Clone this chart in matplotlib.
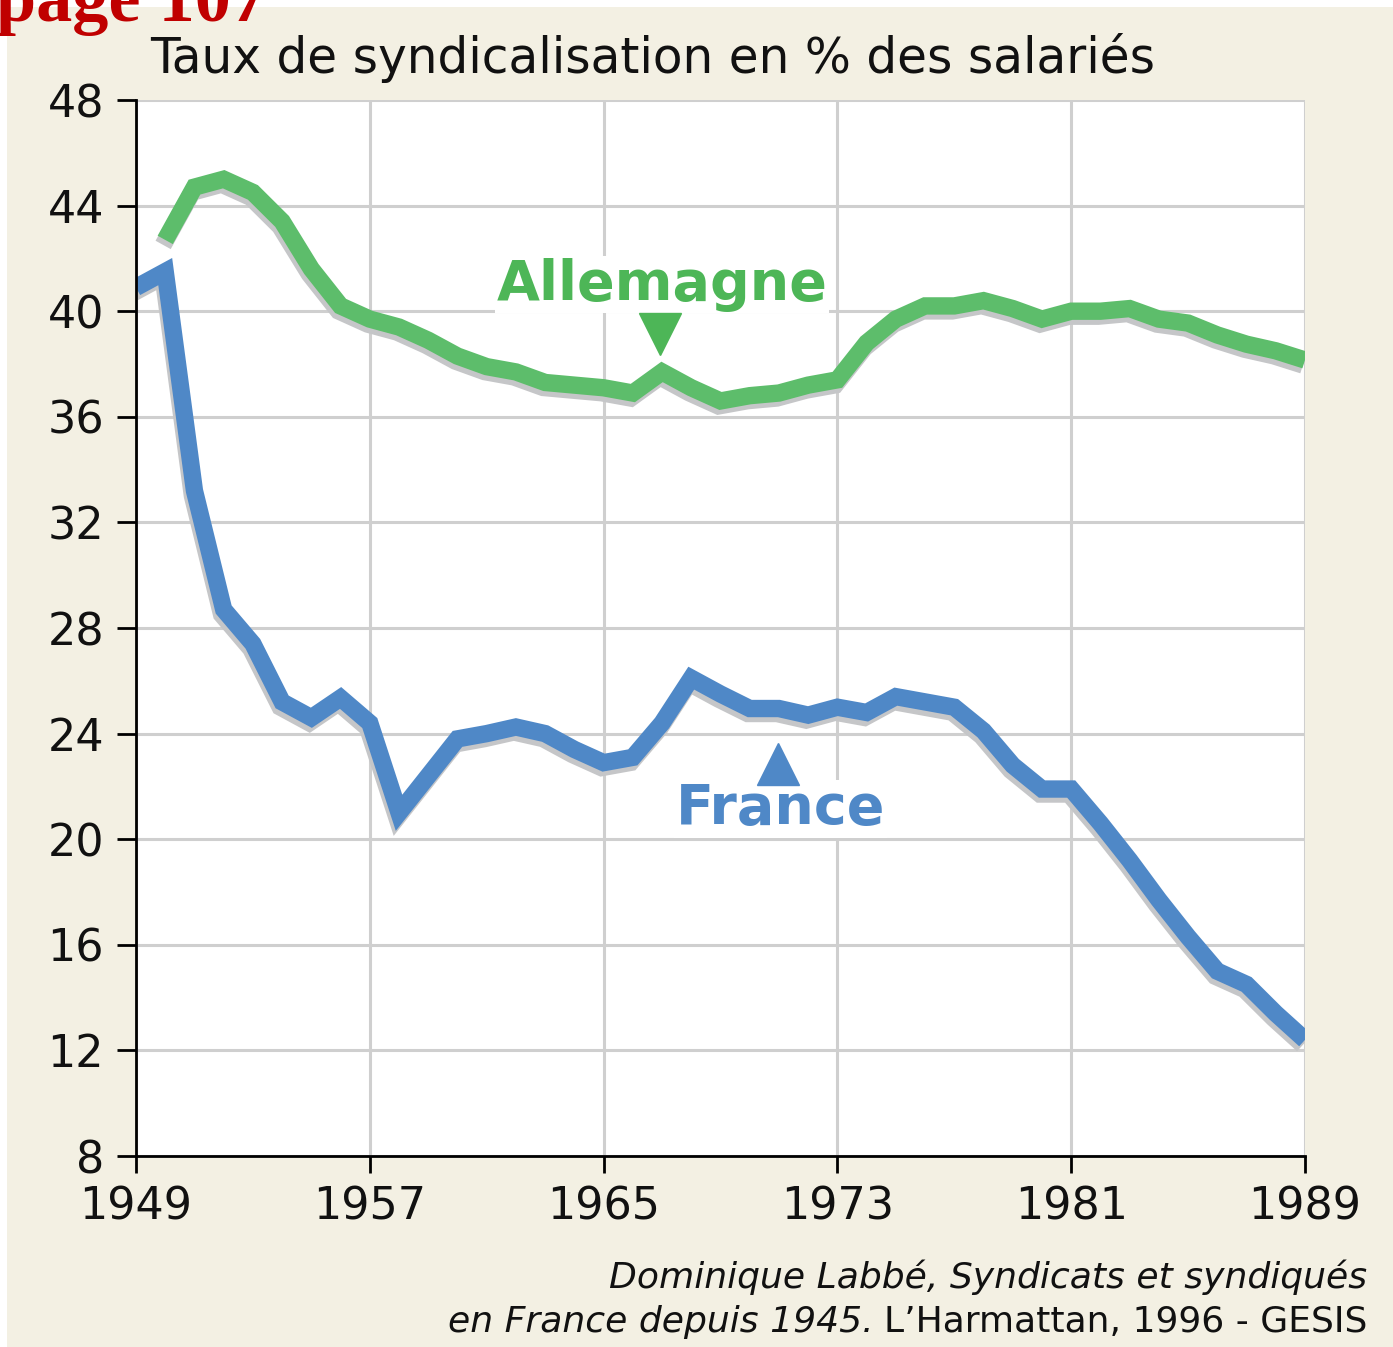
import matplotlib
matplotlib.use("Agg")
import matplotlib.pyplot as plt
import matplotlib.patheffects as pe
from matplotlib.patches import Rectangle

# taux de syndicalisation (% des salariés)
years_fr = list(range(1949, 1990))
france = [40.9, 41.5, 33.2, 28.7, 27.4, 25.2, 24.6, 25.35, 24.4, 21.0,
          22.4, 23.8, 24.0, 24.25, 24.0, 23.4, 22.9, 23.1, 24.4, 26.1,
          25.5, 24.95, 24.95, 24.7, 25.0, 24.8, 25.4, 25.2, 25.0, 24.1,
          22.8, 21.9, 21.9, 20.6, 19.2, 17.7, 16.3, 15.0, 14.5, 13.4,
          12.4]

years_de = list(range(1950, 1990))
allemagne = [42.7, 44.7, 45.0, 44.5, 43.4, 41.6, 40.2, 39.7, 39.4, 38.9,
             38.3, 37.9, 37.7, 37.3, 37.2, 37.1, 36.9, 37.7, 37.1, 36.6,
             36.8, 36.9, 37.2, 37.4, 38.8, 39.7, 40.2, 40.2, 40.4, 40.1,
             39.7, 40.0, 40.0, 40.1, 39.7, 39.55, 39.1, 38.75, 38.5, 38.15]

xticks = [1949, 1957, 1965, 1973, 1981, 1989]
yticks = [8, 12, 16, 20, 24, 28, 32, 36, 40, 44, 48]

GREEN = "#5dbd6b"
GREEN_TXT = "#4db657"
BLUE = "#4f88c7"
BEIGE = "#f3f0e3"
SHADOW = "#c5c6c8"

W, H = 1393, 1347
fig = plt.figure(figsize=(W / 100, H / 100), dpi=100)
fig.patch.set_facecolor("white")
fig.patches.append(Rectangle((7 / W, 0), 1, 1 - 7 / H, transform=fig.transFigure,
                             facecolor=BEIGE, edgecolor="none", zorder=-10))

ax = fig.add_axes([136 / W, 1 - 1156 / H, (1305 - 136) / W, (1156 - 100) / H])
ax.set_facecolor("white")
ax.set_xlim(1949, 1989)
ax.set_ylim(8, 48)

ax.grid(True, color="#cfcfcf", lw=2.2, zorder=0)
ax.set_axisbelow(True)
for s in ["top", "right"]:
    ax.spines[s].set_visible(False)
for s in ["left", "bottom"]:
    ax.spines[s].set_linewidth(2)
    ax.spines[s].set_zorder(5)

font = "DejaVu Sans"
ax.set_xticks(xticks)
ax.set_yticks(yticks)
ax.tick_params(axis="y", length=14, width=2, pad=9, labelsize=32)
ax.tick_params(axis="x", length=12, width=2, pad=9, labelsize=32)
for lab in ax.get_xticklabels() + ax.get_yticklabels():
    lab.set_family(font)
    lab.set_color("#111111")

shadow = [pe.SimpleLineShadow(offset=(-1.5, -3.6), shadow_color=SHADOW, alpha=1.0),
          pe.Normal()]
ax.plot(years_de, allemagne, color=GREEN, lw=12.5, solid_joinstyle="miter",
        solid_capstyle="butt", path_effects=shadow, zorder=3)
ax.plot(years_fr, france, color=BLUE, lw=12.5, solid_joinstyle="miter",
        solid_capstyle="butt", path_effects=shadow, zorder=3)

# étiquettes des séries
ax.text(1967.0, 41.0, "Allemagne", color=GREEN_TXT, fontsize=40, fontweight="bold",
        ha="center", va="center", zorder=4,
        bbox=dict(facecolor="white", edgecolor="none", pad=1))
ax.plot([1966.93], [39.15], marker="v", color=GREEN_TXT, markersize=30, zorder=4)
ax.text(1971.05, 21.15, "France", color=BLUE, fontsize=40, fontweight="bold",
        ha="center", va="center", zorder=4,
        bbox=dict(facecolor="white", edgecolor="none", pad=1))
ax.plot([1970.97], [22.85], marker="^", color=BLUE, markersize=30, zorder=4)

fig.text(150 / W, 1 - 58 / H, "Taux de syndicalisation en % des salariés",
         fontsize=35, family=font, color="#111111", ha="left", va="center")

fig.text(-4 / W, 1 - 21 / H, "page 107", fontsize=52, fontweight="bold",
         family="Liberation Serif", color="#c00000", ha="left", va="baseline")

# source
src_x = 1367 / W
fig.text(src_x, 1 - 1288 / H, "Dominique Labbé, Syndicats et syndiqués",
         fontsize=26, style="italic", family=font, color="#111111",
         ha="right", va="baseline")
t_norm = fig.text(src_x, 1 - 1332 / H, "L\u2019Harmattan, 1996 - GESIS",
                  fontsize=26, family=font, color="#111111",
                  ha="right", va="baseline")
fig.canvas.draw()
bb = t_norm.get_window_extent(renderer=fig.canvas.get_renderer())
fig.text((bb.x0 - 10) / W, 1 - 1332 / H, "en France depuis 1945.",
         fontsize=26, style="italic", family=font, color="#111111",
         ha="right", va="baseline")

fig.savefig("out.png", dpi=100, facecolor=fig.get_facecolor())
